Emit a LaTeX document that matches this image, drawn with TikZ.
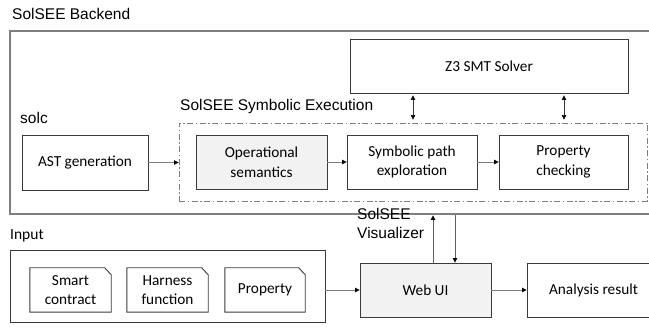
\documentclass[tikz,border=0pt]{standalone}
\usepackage{fontspec}
\setmainfont{Carlito}
\newfontfamily\arialfont{Liberation Sans}
\usetikzlibrary{arrows.meta}
\definecolor{boxline}{HTML}{3A3A3A}
\definecolor{frameline}{HTML}{7F7F7F}
\definecolor{lightfill}{HTML}{F2F2F2}
\tikzset{
  box/.style={draw=boxline, line width=0.9pt, minimum width=#1, inner sep=0pt, minimum height=54pt, align=center,
    font=\fontsize{15.3}{19.5}\selectfont, text=black},
  box/.default=130pt,
  shaded/.style={fill=lightfill},
  frame/.style={draw=frameline, line width=1.4pt, inner sep=0pt},
  grouplabel/.style={font=\arialfont\fontsize{15.5}{19.5}\selectfont, anchor=base west, inner sep=0pt, align=left},
  doc/.style={minimum width=81pt, minimum height=44pt, inner sep=0pt, align=center,
    font=\fontsize{15.3}{19.5}\selectfont},
  docline/.style={draw=boxline, line width=0.9pt},
  arr/.style={draw=frameline, line width=0.8pt, -{Triangle[length=4.5pt,width=4.5pt,color=black]}},
  biarr/.style={draw=boxline, line width=0.6pt, {Triangle[length=4.5pt,width=4.5pt,color=black]}-{Triangle[length=4.5pt,width=4.5pt,color=black]}}
}
\begin{document}
\begin{tikzpicture}[x=1pt,y=-1pt]
\useasboundingbox (0,0) rectangle (649,331);

% Backend frame and its inner group
\node[frame, minimum width=660pt, minimum height=183pt] (backend) at (340,122.5) {};
\node[grouplabel] (backendlbl) at (12,20) {SolSEE Backend};
\node[draw=frameline, line width=0.9pt, dash pattern=on 6pt off 2.5pt on 1.5pt off 2.5pt,
      minimum width=468pt, minimum height=78pt, inner sep=0pt] (symexec) at (413,162) {};
\node[grouplabel] (symlbl) at (180,111) {SolSEE Symbolic Execution};
\node[grouplabel] (solclbl) at (20,124) {solc};

\node[box=126pt, minimum height=55pt] (ast) at (85,162.5) {AST generation};
\node[box=131pt, shaded] (opsem) at (261.5,162) {Operational\\semantics};
\node[box=130pt] (sympath) at (412,162) {Symbolic path\\exploration};
\node[box=129pt] (propchk) at (563.5,162) {Property\\checking};
\node[box=278pt] (z3) at (489,66) {Z3 SMT Solver};

% Input group
\node[grouplabel, font=\fontsize{15.5}{19}\selectfont] (inputlbl) at (10,240) {Input};
\node[draw=boxline, line width=0.9pt, minimum width=315pt, minimum height=72pt, inner sep=0pt] (input) at (167.5,286) {};
\node[doc] (smart) at (70.5,290) {Smart\\contract};
\node[doc] (harness) at (167.5,290) {Harness\\function};
\node[doc, minimum width=80pt] (prop) at (265,290) {Property};
\foreach \d in {smart,harness,prop}{
  \draw[docline] (\d.north west) -- ([xshift=-6.5pt]\d.north east) -- ([yshift=-7pt]\d.north east)
    -- (\d.south east) -- (\d.south west) -- cycle;
}

% Visualizer
\node[grouplabel] (vislbl) at (357,239) {SolSEE\\Visualizer};
\node[box=131pt, shaded] (webui) at (425.5,290) {Web UI};
\node[box=133pt] (result) at (593.5,290) {Analysis result};

% Connectors
\draw[arr] (ast) -- (symexec.west |- ast);
\draw[arr] (opsem) -- (sympath);
\draw[arr] (sympath) -- (propchk);
\coordinate (zl) at (413,0);
\coordinate (zr) at (564,0);
\draw[biarr] ([yshift=-2pt]z3.south -| zl) -- ([yshift=3pt]symexec.north -| zl);
\draw[biarr] ([yshift=-2pt]z3.south -| zr) -- ([yshift=3pt]symexec.north -| zr);
\draw[arr] (input.east |- webui) -- (webui);
\draw[arr] (webui) -- (result);
\coordinate (upx) at (433,0);
\coordinate (downx) at (455,0);
\draw[arr, draw=boxline!80] (webui.north -| upx) -- ([yshift=-0.7pt]backend.south -| upx);
\draw[arr, draw=boxline!80] ([yshift=-0.7pt]backend.south -| downx) -- (webui.north -| downx);
\end{tikzpicture}
\end{document}
